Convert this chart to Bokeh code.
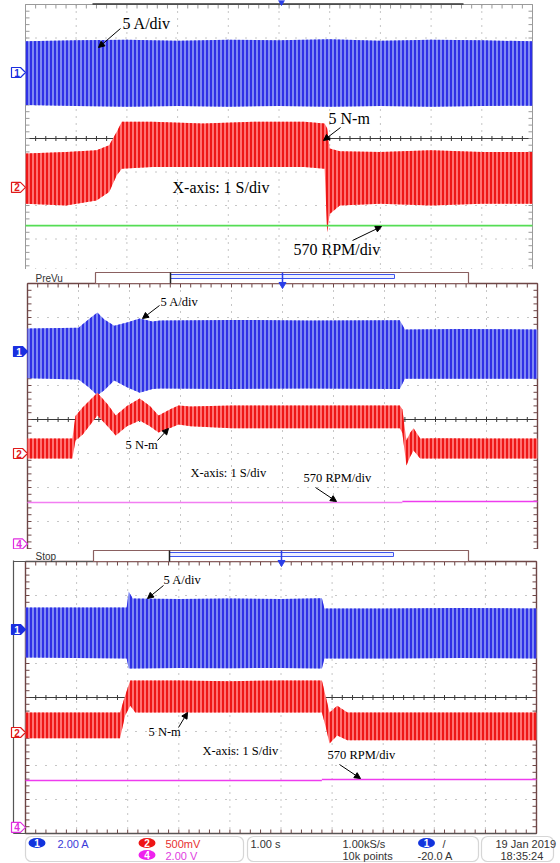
import numpy as np
from bokeh.plotting import figure
from bokeh.layouts import column
from bokeh.models import Range1d, Arrow, NormalHead, BoxAnnotation
from bokeh.core.properties import value
from bokeh.embed import file_html
from bokeh.resources import INLINE

SERIF = value("Liberation Serif")
SANS = value("Liberation Sans")

# ===================== DATA =====================
# time in seconds (1 S/div, 10 div); amplitudes in screen divisions from panel centre
# ---- Panel 1 (upper capture)
p1_blue_t   = [0, 1, 2, 3, 4, 5, 6, 7, 8, 9, 10]
p1_blue_top = [2.90, 2.93, 2.95, 2.92, 2.95, 2.93, 2.96, 2.92, 2.95, 2.93, 2.90]
p1_blue_bot = [1.00, 0.97, 0.95, 0.97, 0.95, 0.97, 0.95, 0.97, 0.95, 0.97, 0.98]
p1_red_t    = [0, 0.8, 1.4, 1.65, 1.8, 1.9, 2.5, 3.5, 4.5, 5.5, 5.9, 5.95, 6.0, 6.2, 7, 8, 9, 10]
p1_red_top  = [-0.45, -0.40, -0.35, -0.20, 0.20, 0.50, 0.50, 0.45, 0.50, 0.50, 0.45, 0.30, -0.30, -0.38, -0.40, -0.35, -0.40, -0.40]
p1_red_bot  = [-1.95, -2.00, -1.85, -1.60, -1.10, -0.90, -0.85, -0.85, -0.85, -0.85, -0.90, -2.80, -2.25, -2.00, -1.95, -2.00, -1.95, -1.95]
p1_spd_t    = [0, 10]
p1_spd      = [-2.60, -2.60]

# ---- Panel 2 (PreVu capture)
p2_blue_t   = [0, 1.0, 1.2, 1.37, 1.5, 1.7, 1.95, 2.2, 2.45, 2.6, 4, 5.5, 7.3, 7.4, 8.5, 10]
p2_blue_top = [2.68, 2.70, 2.95, 3.15, 2.95, 2.76, 2.85, 2.97, 2.88, 2.91, 2.93, 2.91, 2.92, 2.65, 2.66, 2.65]
p2_blue_bot = [1.21, 1.18, 0.95, 0.71, 0.85, 1.15, 0.95, 0.79, 0.90, 0.91, 0.90, 0.91, 0.90, 1.20, 1.20, 1.20]
p2_red_t    = [0, 0.88, 0.94, 1.08, 1.37, 1.57, 1.73, 1.95, 2.2, 2.4, 2.57, 2.8, 2.96, 3.2, 4, 5, 6, 7.3, 7.35, 7.43, 7.5, 7.57, 7.7, 8, 9, 10]
p2_red_top  = [-0.56, -0.56, 0.10, 0.35, 0.79, 0.45, 0.12, 0.40, 0.62, 0.40, 0.12, 0.30, 0.41, 0.38, 0.41, 0.41, 0.41, 0.41, 0.30, -0.62, -0.40, -0.26, -0.56, -0.55, -0.56, -0.56]
p2_red_bot  = [-1.15, -1.15, -0.62, -0.45, 0.12, -0.20, -0.47, -0.20, -0.03, -0.20, -0.38, -0.25, -0.15, -0.20, -0.26, -0.26, -0.26, -0.26, -0.40, -1.35, -1.10, -0.91, -1.15, -1.15, -1.15, -1.15]
p2_spd_t    = [0, 7.35, 7.35, 10]
p2_spd      = [-2.44, -2.44, -2.41, -2.41]

# ---- Panel 3 (Stop capture)
p3_blue_t   = [0, 1.98, 2.02, 2.1, 3, 4, 5, 5.8, 5.85, 7, 8.5, 10]
p3_blue_top = [2.65, 2.65, 3.12, 2.91, 2.90, 2.91, 2.90, 2.92, 2.62, 2.62, 2.63, 2.62]
p3_blue_bot = [1.18, 1.15, 0.85, 0.85, 0.87, 0.86, 0.87, 0.85, 1.15, 1.15, 1.16, 1.15]
p3_red_t    = [0, 1.85, 1.95, 2.05, 2.15, 3, 4, 5, 5.8, 5.88, 5.95, 6.1, 6.3, 7, 8.5, 10]
p3_red_top  = [-0.44, -0.44, 0.06, 0.50, 0.50, 0.50, 0.48, 0.50, 0.50, 0.00, -0.44, -0.24, -0.44, -0.44, -0.44, -0.44]
p3_red_bot  = [-1.20, -1.20, -0.53, -0.24, -0.44, -0.44, -0.44, -0.44, -0.44, -0.90, -1.35, -1.12, -1.26, -1.26, -1.26, -1.26]
p3_spd_t    = [0, 5.8, 5.8, 10]
p3_spd      = [-2.44, -2.44, -2.41, -2.41]

# channel reference markers (divisions)
p1_refs = [("1", 1.97), ("2", -1.46)]
p2_refs = [("1", 2.00), ("2", -1.00), ("4", -3.66)]
p3_refs = [("1", 2.00), ("2", -1.03), ("4", -3.82)]

# annotation texts
lbl_current = "5 A/div"
lbl_torque = "5 N-m"
lbl_xaxis = "X-axis: 1 S/div"
lbl_speed = "570 RPM/div"

# ===================== STYLE / LAYOUT =====================
BLUE_F, BLUE_H = "#7f89f3", "#1a1ae2"
RED_F, RED_H = "#ff7272", "#ea0000"
GREEN = "#55dd55"
MAG1, MAG2 = "#f27ef2", "#ee3cee"
GRIDC = "#8c8c8c"
FRAME = "#6e4646"
CH_COL = {"1": "#1b2fe0", "2": "#e01a1a", "4": "#e02ee0"}

LAY = {
    1: dict(top=0, H=269, x0=25, sx=50.7, c=138, sy=33.5),
    2: dict(top=269, H=280, x0=27, sx=51.0, c=419, sy=34.0),
    3: dict(top=549, H=314, x0=25, sx=51.1, c=697, sy=34.0),
}


def make_panel(k):
    L = LAY[k]
    x0, sx, c, sy, top, H = L["x0"], L["sx"], L["c"], L["sy"], L["top"], L["H"]
    p = figure(width=560, height=H, output_backend="svg", toolbar_location=None,
               x_range=Range1d(-x0 / sx, (560 - x0) / sx),
               y_range=Range1d((c - top - H) / sy, (c - top) / sy),
               x_axis_type=None, y_axis_type=None, min_border=0)
    p.outline_line_color = None
    p.background_fill_color = "white"
    p.border_fill_color = "white"
    X = lambda gx: (gx - x0) / sx
    Y = lambda gy: (c - gy) / sy
    return p, X, Y


def grid(p, X, Y, sx, sy, frame_col, frame_w):
    # dotted graticule
    p.multi_line([[t, t] for t in range(1, 10)], [[4, -4]] * 9,
                 line_color=GRIDC, line_dash="1 6", line_width=1)
    p.multi_line([[0, 10] for v in (-3, -2, -1, 1, 2, 3)], [[v, v] for v in (-3, -2, -1, 1, 2, 3)],
                 line_color=GRIDC, line_dash="1 9", line_width=1)
    # centre line with minor ticks
    p.line([0, 10], [0, 0], line_color="#3a3a3a", line_width=1)
    tt = np.arange(0, 10.01, 0.2)
    p.segment(tt, -2.5 / sy, tt, 2.5 / sy, line_color="#3a3a3a", line_width=1)
    # edge ticks
    vv = np.arange(-4, 4.01, 0.2)
    p.segment(np.zeros_like(vv), vv, np.full_like(vv, 4 / sx), vv, line_color=frame_col, line_width=1)
    p.segment(np.full_like(vv, 10), vv, np.full_like(vv, 10 - 4 / sx), vv, line_color=frame_col, line_width=1)
    p.segment(tt, np.full_like(tt, 4), tt, np.full_like(tt, 4 - 4 / sy), line_color=frame_col, line_width=1)
    p.segment(tt, np.full_like(tt, -4), tt, np.full_like(tt, -4 + 4 / sy), line_color=frame_col, line_width=1)
    # frame
    p.line([0, 0], [-4, 4], line_color=frame_col, line_width=frame_w)
    p.line([10, 10], [-4, 4], line_color=frame_col, line_width=frame_w)
    p.line([0, 10], [4, 4], line_color=frame_col, line_width=frame_w)
    p.line([0, 10], [-4, -4], line_color=frame_col, line_width=frame_w)


def traces(p, bt, btop, bbot, rt, rtop, rbot, st, sv, spd_cols):
    p.varea(x=bt, y1=bbot, y2=btop, fill_color=BLUE_F, hatch_pattern="vertical_line",
            hatch_color=BLUE_H, hatch_scale=4, hatch_weight=1.6)
    p.varea(x=rt, y1=rbot, y2=rtop, fill_color=RED_F, hatch_pattern="vertical_line",
            hatch_color=RED_H, hatch_scale=4, hatch_weight=1.6)
    if len(spd_cols) == 1:
        p.line(st, sv, line_color=spd_cols[0], line_width=1.6)
    else:
        p.line(st[:2], sv[:2], line_color=spd_cols[0], line_width=1.6)
        p.line(st[2:], sv[2:], line_color=spd_cols[1], line_width=1.6)


def markers(p, X, Y, sx, sy, refs, filled1):
    for lab, v in refs:
        col = CH_COL[lab]
        tip = 0.0
        xs = [tip, tip - 5 / sx, tip - 14 / sx, tip - 14 / sx, tip - 5 / sx]
        ys = [v, v + 5 / sy, v + 5 / sy, v - 5 / sy, v - 5 / sy]
        filled = filled1 and lab == "1"
        p.patch(xs, ys, fill_color=col if filled else "white", line_color=col, line_width=1.2)
        p.text([tip - 8.5 / sx], [v], text=[lab], text_color="white" if filled else col,
               text_font=SANS, text_font_size="10px", text_font_style="bold",
               text_align="center", text_baseline="middle")


def label(p, X, Y, s, gx, gy, size):
    p.text([X(gx)], [Y(gy)], text=[s], text_font=SERIF, text_font_size=size,
           text_color="black", text_align="left", text_baseline="middle")


def arrow(p, X, Y, a, b, c2, d):
    p.add_layout(Arrow(x_start=X(a), y_start=Y(b), x_end=X(c2), y_end=Y(d),
                       line_color="black", line_width=1,
                       end=NormalHead(size=6, fill_color="black", line_color="black", line_width=1)))


def header(p, X, Y, name, gy0, gy1, gx0, gx1, gxa, gxb, trig):
    p.text([X(35)], [Y((gy0 + gy1) / 2 + 0.5)], text=[name], text_font=SANS, text_font_size="10px",
           text_color="#333333", text_align="left", text_baseline="middle")
    p.quad(left=X(gx0), right=X(gx1), top=Y(gy0), bottom=Y(gy1), fill_color="white",
           line_color="#8a6060", line_width=1.2)
    p.quad(left=X(gxa), right=X(gxb), top=Y(gy0 + 2), bottom=Y(gy0 + 6), fill_color="#eef0ff",
           line_color="#3f55ee", line_width=1)
    p.segment([X(gxa), X(gxb)], [Y(gy0)], [X(gxa), X(gxb)], [Y(gy1)], line_color="#222222", line_width=1.5)
    p.segment([X(trig)], [Y(gy0)], [X(trig)], [Y(gy1 + 1)], line_color="#2a3ee8", line_width=1.5)
    p.scatter([X(trig)], [Y(gy1 + 1)], marker="inverted_triangle", size=7,
              fill_color="#2a3ee8", line_color="#2a3ee8")


# ---------------- Panel 1 ----------------
f1, X1, Y1 = make_panel(1)
L1 = LAY[1]
grid(f1, X1, Y1, L1["sx"], L1["sy"], "#9a9a9a", 1)
f1.line([X1(92), X1(463)], [Y1(3.5), Y1(3.5)], line_color="#333333", line_width=1.5)
f1.scatter([X1(281)], [Y1(1.5)], marker="inverted_triangle", size=6, fill_color="#2a3ee8", line_color="#2a3ee8")
traces(f1, p1_blue_t, p1_blue_top, p1_blue_bot, p1_red_t, p1_red_top, p1_red_bot, p1_spd_t, p1_spd, [GREEN])
markers(f1, X1, Y1, L1["sx"], L1["sy"], p1_refs, False)
label(f1, X1, Y1, lbl_current, 122, 23, "16px")
label(f1, X1, Y1, lbl_torque, 328, 118, "16px")
label(f1, X1, Y1, lbl_xaxis, 172, 187, "16px")
label(f1, X1, Y1, lbl_speed, 293, 249, "16px")
arrow(f1, X1, Y1, 120, 28, 98, 47)
arrow(f1, X1, Y1, 340, 127, 323, 140)
arrow(f1, X1, Y1, 352, 240, 381, 226)

# ---------------- Panel 2 ----------------
f2, X2, Y2 = make_panel(2)
L2 = LAY[2]
grid(f2, X2, Y2, L2["sx"], L2["sy"], FRAME, 1.4)
header(f2, X2, Y2, "PreVu", 272, 283, 95, 468, 170, 394, 282)
traces(f2, p2_blue_t, p2_blue_top, p2_blue_bot, p2_red_t, p2_red_top, p2_red_bot, p2_spd_t, p2_spd, [MAG1, MAG2])
markers(f2, X2, Y2, L2["sx"], L2["sy"], p2_refs, True)
label(f2, X2, Y2, lbl_current, 160, 301, "12.5px")
label(f2, X2, Y2, lbl_torque, 125, 444, "12.5px")
label(f2, X2, Y2, lbl_xaxis, 190, 472, "12.5px")
label(f2, X2, Y2, lbl_speed, 303, 477, "12.5px")
arrow(f2, X2, Y2, 159, 305, 142, 318)
arrow(f2, X2, Y2, 157, 440, 168, 428)
arrow(f2, X2, Y2, 315, 487, 336, 501)

# ---------------- Panel 3 ----------------
f3, X3, Y3 = make_panel(3)
L3 = LAY[3]
grid(f3, X3, Y3, L3["sx"], L3["sy"], FRAME, 1.4)
f3.line([X3(13), X3(13)], [Y3(560), Y3(833)], line_color="#555555", line_width=1.2)
f3.line([X3(13), X3(536)], [Y3(833), Y3(833)], line_color="#555555", line_width=1.2)
f3.line([X3(13), X3(93)], [Y3(561), Y3(561)], line_color="#555555", line_width=1.2)
header(f3, X3, Y3, "Stop", 550, 561, 93, 468, 169, 393, 281)
traces(f3, p3_blue_t, p3_blue_top, p3_blue_bot, p3_red_t, p3_red_top, p3_red_bot, p3_spd_t, p3_spd, [MAG2, MAG2])
markers(f3, X3, Y3, L3["sx"], L3["sy"], p3_refs, True)
label(f3, X3, Y3, lbl_current, 163, 579, "12.5px")
label(f3, X3, Y3, lbl_torque, 148, 731, "12.5px")
label(f3, X3, Y3, lbl_xaxis, 202, 750, "12.5px")
label(f3, X3, Y3, lbl_speed, 327, 754, "12.5px")
arrow(f3, X3, Y3, 163, 585, 147, 598)
arrow(f3, X3, Y3, 178, 727, 187, 712)
arrow(f3, X3, Y3, 339, 764, 360, 778)

# status bar
for a, b in [(25, 243), (247, 478), (481, 553)]:
    f3.add_layout(BoxAnnotation(left=X3(a), right=X3(b), top=Y3(836), bottom=Y3(861),
                                fill_alpha=0, line_color="#777777", line_width=1.2, border_radius=6))
f3.ellipse([X3(36.5), X3(146.5), X3(146.5), X3(426)], [Y3(842.5), Y3(842.5), Y3(854.5), Y3(842.5)],
           width=17, height=10, width_units="screen", height_units="screen",
           fill_color=["#1133dd", "#ee1515", "#ee22ee", "#1133dd"], line_color=None)
f3.text([X3(36.5), X3(146.5), X3(146.5), X3(426)], [Y3(842.5), Y3(842.5), Y3(854.5), Y3(842.5)],
        text=["1", "2", "4", "1"], text_color="white", text_font=SANS, text_font_size="10px",
        text_font_style="bold", text_align="center", text_baseline="middle")
st_txt = ["2.00 A", "500mV", "2.00 V", "1.00 s", "1.00kS/s", "10k points", "/", "-20.0 A", "19 Jan  2019", "18:35:24"]
st_x = [57, 165, 165, 250, 342, 342, 442, 417, 495, 500]
st_y = [843, 843, 855, 843, 843, 855, 843, 855, 843, 855]
st_c = ["#3a3ad8", "#e83030", "#e040e0", "#333333", "#333333", "#333333", "#333333", "#333333", "#333333", "#333333"]
f3.text([X3(v) for v in st_x], [Y3(v) for v in st_y], text=st_txt, text_color=st_c,
        text_font=SANS, text_font_size="11px", text_align="left", text_baseline="middle")

layout = column(f1, f2, f3, spacing=0)
open("out.html", "w").write(file_html(layout, INLINE))
